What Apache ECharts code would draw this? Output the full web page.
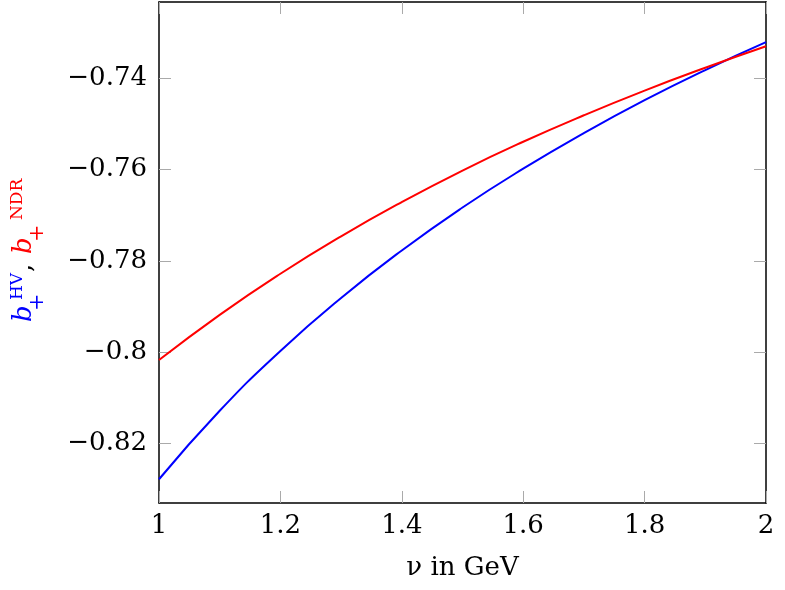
<!DOCTYPE html>
<html>
<head>
<meta charset="utf-8">
<script src="https://cdn.jsdelivr.net/npm/echarts@6/dist/echarts.min.js"></script>
<style>html,body{margin:0;padding:0;background:#fff;}#c{width:785px;height:590px;}</style>
</head>
<body>
<div id="c"></div>
<script>
const nu = [1.0, 1.1, 1.2, 1.3, 1.4, 1.5, 1.6, 1.7, 1.8, 1.9, 2.0];
const bHV = [-0.8278, -0.8128, -0.7997, -0.7881, -0.7777, -0.7683, -0.7598, -0.7520, -0.7448, -0.7382, -0.7321];
const bNDR = [-0.8017, -0.7918, -0.7828, -0.7746, -0.7671, -0.7602, -0.7539, -0.7481, -0.7427, -0.7377, -0.7330];
const xTicks = [1, 1.2, 1.4, 1.6, 1.8, 2];
const yTicks = [-0.82, -0.80, -0.78, -0.76, -0.74];
const xTitle = 'ν in GeV';

const FONT = 'DejaVu Serif';
const FS = 26;
const chart = echarts.init(document.getElementById('c'), null, {renderer: 'canvas'});
const fmtY = v => (Math.round(v * 100) / 100).toString().replace('-', '\u2212');
const tickStyle = {show: true, inside: true, length: 12, lineStyle: {color: '#aaaaaa', width: 1}};
const lineStyle = {show: true, lineStyle: {color: '#000', width: 1.5}};

function t(text, x, y, size, color, italic) {
  return {type: 'text', x: x, y: y, style: {text: text, fill: color, font: (italic ? 'italic ' : '') + size + 'px "' + FONT + '"', textAlign: 'left', textVerticalAlign: 'middle'}};
}

chart.setOption({
  animation: false,
  backgroundColor: '#fff',
  grid: {left: 159, right: 19, top: 2, bottom: 87, containLabel: false, outerBoundsMode: 'none'},
  xAxis: [{
    type: 'value', min: 1, max: 2, interval: 0.2,
    axisLine: lineStyle,
    axisTick: Object.assign({customValues: xTicks}, tickStyle),
    axisLabel: {customValues: xTicks, fontFamily: FONT, fontSize: FS, color: '#000', margin: 10},
    splitLine: {show: false},
    name: xTitle, nameLocation: 'middle', nameGap: 52,
    nameTextStyle: {fontFamily: FONT, fontSize: FS, color: '#000'}
  }, {
    type: 'value', min: 1, max: 2, position: 'top',
    axisLine: lineStyle,
    axisTick: Object.assign({customValues: xTicks}, tickStyle),
    axisLabel: {show: false}, splitLine: {show: false}
  }],
  yAxis: [{
    type: 'value', min: -0.833, max: -0.7233,
    axisLine: lineStyle,
    axisTick: Object.assign({customValues: yTicks}, tickStyle),
    axisLabel: {customValues: yTicks, formatter: fmtY, fontFamily: FONT, fontSize: FS, color: '#000', margin: 12},
    splitLine: {show: false}
  }, {
    type: 'value', min: -0.833, max: -0.7233, position: 'right',
    axisLine: lineStyle,
    axisTick: Object.assign({customValues: yTicks}, tickStyle),
    axisLabel: {show: false}, splitLine: {show: false}
  }],
  series: [{
    type: 'line', name: 'HV', data: nu.map((x, i) => [x, bHV[i]]),
    smooth: true, showSymbol: false, lineStyle: {color: '#0000ff', width: 2}, itemStyle: {color: '#0000ff'}
  }, {
    type: 'line', name: 'NDR', data: nu.map((x, i) => [x, bNDR[i]]),
    smooth: true, showSymbol: false, lineStyle: {color: '#ff0000', width: 2}, itemStyle: {color: '#ff0000'}
  }],
  graphic: [{
    type: 'group', x: 33, y: 322, rotation: Math.PI / 2,
    children: [
      t('b', 0, -9, 26, '#0000ff', true),
      t('HV', 22, -15, 17, '#0000ff', false),
      t('+', 11, 5, 21, '#0000ff', false),
      t(',', 50, -9, 26, '#000', false),
      t('b', 68, -9, 26, '#ff0000', true),
      t('+', 80, 5, 21, '#ff0000', false),
      t('NDR', 102, -15, 17, '#ff0000', false)
    ]
  }]
});
</script>
</body>
</html>
